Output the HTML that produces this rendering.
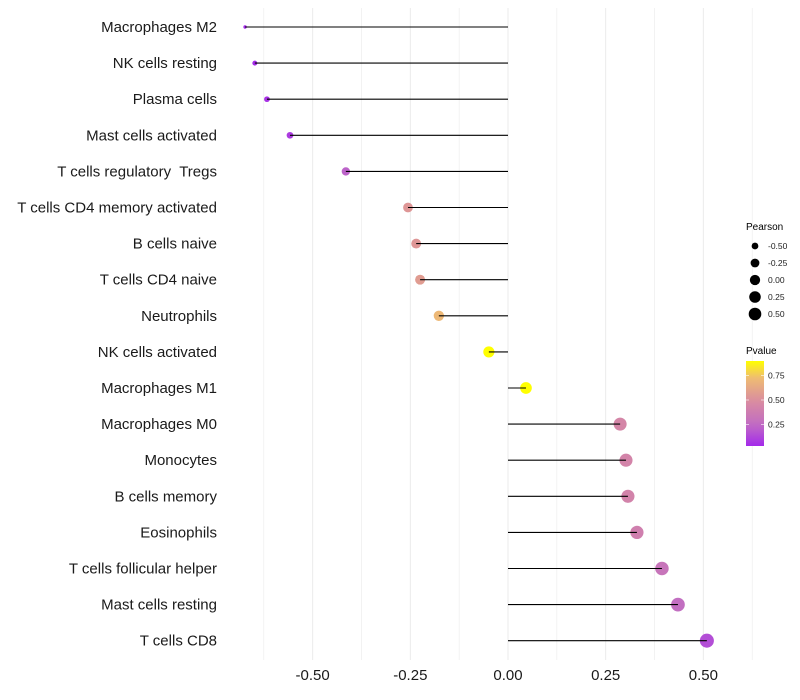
<!DOCTYPE html>
<html><head><meta charset="utf-8"><style>
body{margin:0;background:#fff;}
svg{display:block;font-family:"Liberation Sans",sans-serif;}
text{white-space:pre;}
</style></head><body>
<svg id="chart" width="800" height="700"></svg>
<script>
const categories=["Macrophages M2","NK cells resting","Plasma cells","Mast cells activated","T cells regulatory  Tregs","T cells CD4 memory activated","B cells naive","T cells CD4 naive","Neutrophils","NK cells activated","Macrophages M1","Macrophages M0","Monocytes","B cells memory","Eosinophils","T cells follicular helper","Mast cells resting","T cells CD8"];
const pearson=[-0.673,-0.648,-0.617,-0.558,-0.415,-0.256,-0.235,-0.225,-0.177,-0.049,0.046,0.287,0.302,0.307,0.330,0.394,0.435,0.509];
const pvalues=[0.03,0.04,0.06,0.09,0.22,0.55,0.55,0.58,0.72,0.92,0.92,0.45,0.44,0.43,0.40,0.32,0.27,0.15];
const xTicks=[-0.5,-0.25,0,0.25,0.5];
const xTickLabels=["-0.50","-0.25","0.00","0.25","0.50"];
const sizeLegend=[-0.5,-0.25,0,0.25,0.5];
const sizeLegendLabels=["-0.50","-0.25","0.00","0.25","0.50"];
const pTicks=[0.25,0.5,0.75];
const pTickLabels=["0.25","0.50","0.75"];

const NS="http://www.w3.org/2000/svg";
const svg=document.getElementById('chart');
const x=v=>508+v*390.7;
const y=i=>27+i*36.1;
const r=v=>1.7+4.9*Math.sqrt(Math.max(0,v+0.673));
const stops=[[0,[160,32,240]],[0.25,[192,108,196]],[0.5,[217,140,160]],[0.75,[240,190,112]],[0.92,[255,255,0]]];
function col(p){
  if(p<=stops[0][0])return `rgb(${stops[0][1]})`;
  for(let k=1;k<stops.length;k++){if(p<=stops[k][0]){const a=stops[k-1],b=stops[k];const t=(p-a[0])/(b[0]-a[0]);return `rgb(${a[1].map((c,j)=>Math.round(c+(b[1][j]-c)*t)).join(',')})`;}}
  return 'rgb(255,255,0)';
}
function el(t,a,p){const e=document.createElementNS(NS,t);for(const k in a)e.setAttribute(k,a[k]);(p||svg).appendChild(e);return e;}
const grid=el('g',{});


for(let v=-0.625;v<=0.63;v+=0.125){el('line',{x1:x(v),x2:x(v),y1:8,y2:660,stroke:'#ebebeb','stroke-width':Math.abs(v*4-Math.round(v*4))<1e-6?1:0.6},grid);}
categories.forEach((c,i)=>{
  const g=el('g',{});
  
  
  const pt=el('circle',{cx:x(pearson[i]),cy:y(i),r:r(pearson[i]),fill:col(pvalues[i])},g);
  
  
  const ln=el('line',{x1:x(0),x2:x(pearson[i]),y1:y(i),y2:y(i),stroke:'#000','stroke-width':1.1},g);
  
  
  const t=el('text',{x:217,y:y(i)+5,'text-anchor':'end','font-size':15,fill:'#1a1a1a'});
  t.textContent=c;
  
  
});
xTicks.forEach((v,k)=>{
  const t=el('text',{x:x(v),y:680,'text-anchor':'middle','font-size':15,fill:'#1a1a1a'});
  t.textContent=xTickLabels[k];
  
  
});
const sl=el('g',{});


const st=el('text',{x:746,y:230,'font-size':10,fill:'#000'},sl);st.textContent='Pearson';
sizeLegend.forEach((v,k)=>{
  const cy=246+k*17;
  el('circle',{cx:755,cy:cy,r:r(v)*0.9,fill:'#000'},sl);
  const t=el('text',{x:768,y:cy+3,'font-size':8.5,fill:'#222'},sl);t.textContent=sizeLegendLabels[k];
});
const cl=el('g',{});


const ct=el('text',{x:746,y:354,'font-size':10,fill:'#000'},cl);ct.textContent='Pvalue';
const defs=el('defs',{});
const lg=el('linearGradient',{id:'pg',x1:0,y1:1,x2:0,y2:0},defs);
const py=p=>449-p*98;
for(let s=0;s<=10;s++){const p=0.03+s*(0.89/10);el('stop',{offset:s/10,'stop-color':col(p)},lg);}
el('rect',{x:746,y:361,width:18,height:85,fill:'url(#pg)'},cl);
pTicks.forEach((p,k)=>{
  el('line',{x1:746,x2:749,y1:py(p),y2:py(p),stroke:'#fff','stroke-width':0.6},cl);
  el('line',{x1:761,x2:764,y1:py(p),y2:py(p),stroke:'#fff','stroke-width':0.6},cl);
  const t=el('text',{x:768,y:py(p)+3,'font-size':8.5,fill:'#222'},cl);t.textContent=pTickLabels[k];
});
</script>
</body></html>
